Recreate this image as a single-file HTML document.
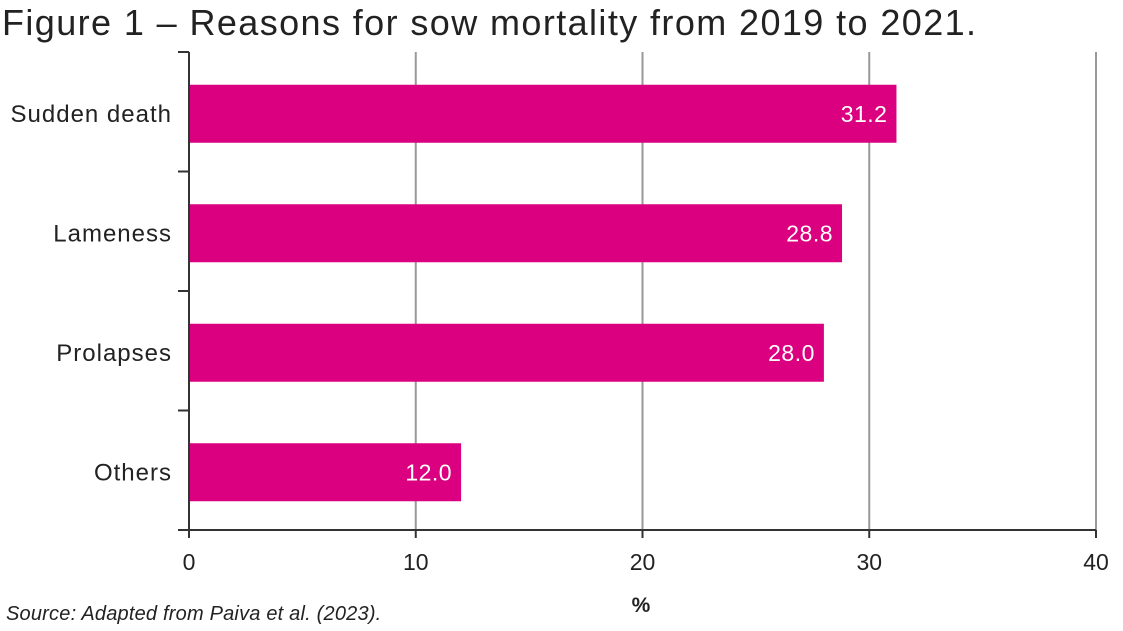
<!DOCTYPE html>
<html><head><meta charset="utf-8"><style>
body{margin:0;background:#fff;width:1123px;height:626px;overflow:hidden;font-family:"Liberation Sans",sans-serif}
</style></head><body>
<svg width="1123" height="626" xmlns="http://www.w3.org/2000/svg">
<text x="2" y="35" font-size="36" letter-spacing="1.4" fill="#222">Figure 1 – Reasons for sow mortality from 2019 to 2021.</text>
<g id="grid"></g><g id="bars"></g><g id="axes"></g>
<text x="641" y="612" font-size="21" font-weight="bold" text-anchor="middle" fill="#222">%</text>
<text x="6" y="620" font-size="20" font-style="italic" letter-spacing="0.2" fill="#222">Source: Adapted from Paiva et al. (2023).</text>
</svg>
<script>
const categories=["Sudden death","Lameness","Prolapses","Others"];
const values=[31.2,28.8,28.0,12.0];
const valueLabels=["31.2","28.8","28.0","12.0"];
const xTicks=[0,10,20,30,40];
const NS="http://www.w3.org/2000/svg";
const x0=189,x1=1096,yTop=52,yBot=530,xMax=40;
const xs=v=>x0+(x1-x0)*v/xMax;
const band=(yBot-yTop)/categories.length;
const ys=i=>yTop+band*i;
function mk(t,a,p){const e=document.createElementNS(NS,t);for(const k in a)e.setAttribute(k,a[k]);p.appendChild(e);return e;}
const grid=document.getElementById('grid'),bars=document.getElementById('bars'),axes=document.getElementById('axes');
xTicks.forEach(t=>{
 if(t>0){const g=mk('line',{x1:xs(t),x2:xs(t),y1:yTop,y2:yBot,stroke:'#999','stroke-width':2},grid);
 
 }
 const tk=mk('line',{x1:xs(t),x2:xs(t),y1:yBot,y2:yBot+8,stroke:'#333','stroke-width':2},axes);
 
 
 const tl=mk('text',{x:xs(t),y:yBot+40,'font-size':23,'text-anchor':'middle',fill:'#222'},axes);
 tl.textContent=t;
 
 
});
for(let i=0;i<=categories.length;i++){
 const tk=mk('line',{x1:x0-11,x2:x0,y1:ys(i),y2:ys(i),stroke:'#333','stroke-width':2},axes);
 
 
}
categories.forEach((c,i)=>{
 const yc=ys(i)+band/2+2;
 const r=mk('rect',{x:x0,y:yc-29,width:xs(values[i])-x0,height:58,fill:'#DB007F'},bars);
 
 
 const vl=mk('text',{x:xs(values[i])-9,y:yc+8,'font-size':23,'letter-spacing':0.5,'text-anchor':'end',fill:'#fff'},bars);
 vl.textContent=valueLabels[i];
 
 
 const cl=mk('text',{x:172,y:yc+8,'font-size':24,'letter-spacing':1.0,'text-anchor':'end',fill:'#222'},axes);
 cl.textContent=c;
 
 
});
const ya=mk('line',{x1:x0,x2:x0,y1:yTop,y2:yBot,stroke:'#333','stroke-width':2},axes);


const xa=mk('line',{x1:x0-11,x2:x1,y1:yBot,y2:yBot,stroke:'#333','stroke-width':2},axes);


</script>
</body></html>
